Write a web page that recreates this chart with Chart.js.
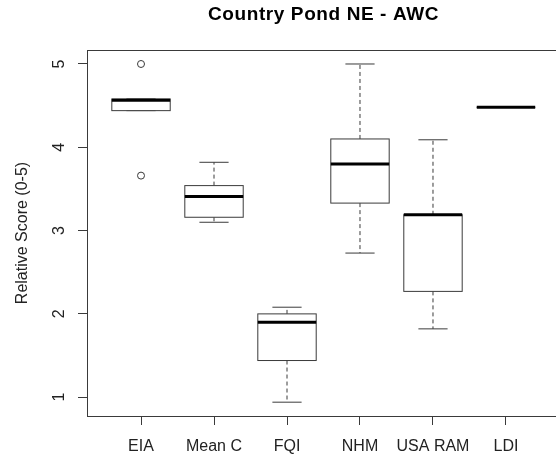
<!DOCTYPE html>
<html>
<head>
<meta charset="utf-8">
<script src="https://cdn.jsdelivr.net/npm/chart.js@4"></script>
<style>
  body { margin: 0; background: #fff; overflow: hidden; }
  #wrap { width: 556px; height: 456px; overflow: hidden; }
</style>
</head>
<body>
<div id="wrap"><canvas id="box-chart" width="570" height="456"></canvas></div>
<script>
// categories and five-number summaries
var labels = ['EIA', 'Mean C', 'FQI', 'NHM', 'USA RAM', 'LDI'];
var lowWhisker = [4.44, 3.10, 0.94, 2.73, 1.82, 4.48];
var q1 = [4.44, 3.16, 1.44, 3.33, 2.27, 4.48];
var median = [4.565, 3.41, 1.90, 3.80, 3.19, 4.48];
var q3 = [4.58, 3.54, 2.00, 4.10, 3.19, 4.48];
var highWhisker = [4.58, 3.82, 2.08, 5.00, 4.09, 4.48];
var outlierX = [1, 1];
var outlierY = [5.00, 3.66];
var yTicks = [1, 2, 3, 4, 5];

var FONT = 'Liberation Sans, Arial, sans-serif';
var LINE = '#3a3a3a';

// draws the boxes, medians and whiskers through the chart scales
var boxPlugin = {
    id: 'boxes',
    beforeDatasetsDraw: function (chart) {
        var ctx = chart.ctx;
        var xs = chart.scales.x, ys = chart.scales.y;
        ctx.save();
        for (var i = 0; i < labels.length; i++) {
            var pos = i + 1;
            var xl = xs.getPixelForValue(pos - 0.4);
            var xr = xs.getPixelForValue(pos + 0.4);
            var sl = xs.getPixelForValue(pos - 0.2);
            var sr = xs.getPixelForValue(pos + 0.2);
            var xc = xs.getPixelForValue(pos);
            var yLo = ys.getPixelForValue(lowWhisker[i]);
            var yQ1 = ys.getPixelForValue(q1[i]);
            var yMed = ys.getPixelForValue(median[i]);
            var yQ3 = ys.getPixelForValue(q3[i]);
            var yHi = ys.getPixelForValue(highWhisker[i]);

            ctx.strokeStyle = LINE;
            ctx.lineWidth = 1;
            // whiskers (dashed)
            ctx.setLineDash([4, 3]);
            ctx.beginPath();
            ctx.moveTo(xc, yQ3); ctx.lineTo(xc, yHi);
            ctx.moveTo(xc, yQ1); ctx.lineTo(xc, yLo);
            ctx.stroke();
            ctx.setLineDash([]);
            // staples
            ctx.beginPath();
            ctx.moveTo(sl, yHi); ctx.lineTo(sr, yHi);
            ctx.moveTo(sl, yLo); ctx.lineTo(sr, yLo);
            ctx.stroke();
            // box
            ctx.fillStyle = '#fff';
            ctx.fillRect(xl, yQ3, xr - xl, yQ1 - yQ3);
            ctx.strokeRect(xl, yQ3, xr - xl, yQ1 - yQ3);
            // median
            ctx.strokeStyle = '#000';
            ctx.lineWidth = 3;
            ctx.beginPath();
            ctx.moveTo(xl, yMed); ctx.lineTo(xr, yMed);
            ctx.stroke();
        }
        ctx.restore();
    },
    afterDraw: function (chart) {
        var ctx = chart.ctx;
        var a = chart.chartArea;
        ctx.save();
        // frame round the plot region (right side falls past the 556px view, as in the original)
        ctx.strokeStyle = LINE;
        ctx.lineWidth = 1;
        ctx.strokeRect(a.left + 0.5, a.top + 0.5, a.right - a.left, a.bottom - a.top);
        // title, centred over the middle of the categories
        ctx.fillStyle = '#000';
        ctx.font = 'bold 19px ' + FONT;
        ctx.letterSpacing = '0.6px';
        ctx.textAlign = 'center';
        ctx.textBaseline = 'middle';
        ctx.fillText('Country Pond NE - AWC', chart.scales.x.getPixelForValue((labels.length + 1) / 2), 15);
        ctx.restore();
    }
};

var outliers = outlierX.map(function (x, i) { return { x: x, y: outlierY[i] }; });

var myChart = new Chart(document.getElementById('box-chart'), {
    type: 'scatter',
    data: {
        datasets: [{
            label: 'outliers',
            data: outliers,
            pointStyle: 'circle',
            pointRadius: 3.5,
            pointBackgroundColor: '#fff',
            pointBorderColor: LINE,
            pointBorderWidth: 1
        }]
    },
    options: {
        responsive: false,
        animation: false,
        devicePixelRatio: 1,
        layout: { padding: { top: 50, left: 0, right: 10, bottom: 0 } },
        plugins: {
            legend: { display: false },
            tooltip: { enabled: false },
            title: { display: false }
        },
        scales: {
            x: {
                type: 'linear',
                min: 0.26,
                max: 6.74,
                afterFit: function (s) { s.height = 40; },
                afterBuildTicks: function (s) {
                    s.ticks = labels.map(function (l, i) { return { value: i + 1 }; });
                },
                grid: { drawOnChartArea: false, color: LINE, tickLength: 9 },
                border: { color: LINE },
                ticks: {
                    font: { family: FONT, size: 16 },
                    color: '#222',
                    padding: 12,
                    maxRotation: 0,
                    callback: function (v) { return labels[Math.round(v) - 1]; }
                }
            },
            y: {
                min: 0.774,
                max: 5.168,
                afterFit: function (s) { s.width = 87; },
                afterBuildTicks: function (s) {
                    s.ticks = yTicks.map(function (v) { return { value: v }; });
                },
                grid: { drawOnChartArea: false, color: LINE, tickLength: 9 },
                border: { color: LINE },
                ticks: {
                    font: { family: FONT, size: 16 },
                    color: '#222',
                    minRotation: 90,
                    maxRotation: 90,
                    crossAlign: 'center',
                    padding: 14
                },
                title: {
                    display: true,
                    text: 'Relative Score (0-5)',
                    font: { family: FONT, size: 16 },
                    color: '#222',
                    padding: { top: 13, bottom: 0 }
                }
            }
        }
    },
    plugins: [boxPlugin]
});
</script>
</body>
</html>
